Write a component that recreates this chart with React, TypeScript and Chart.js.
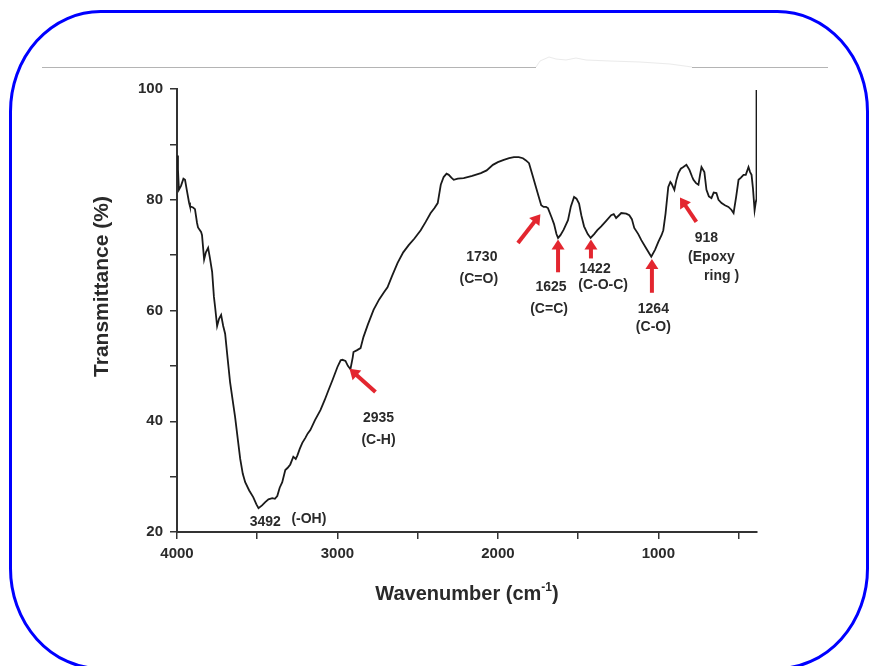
import React, { useEffect, useRef } from "react";
import { Chart, registerables } from "chart.js";

Chart.register(...registerables);

// FTIR spectrum: wavenumber (cm-1) and transmittance (%)
const WAVENUMBER = [
  4000, 3994, 3988, 3975, 3960, 3950, 3938, 3925, 3919, 3900, 3888, 3875, 3869, 3850, 3844, 3831,
  3820, 3806, 3795, 3781, 3770, 3762, 3750, 3738, 3725, 3712, 3700, 3685, 3669, 3650, 3638, 3620,
  3606, 3590, 3575, 3550, 3525, 3505, 3492, 3470, 3450, 3430, 3406, 3390, 3375, 3360, 3344, 3325,
  3310, 3294, 3275, 3260, 3250, 3235, 3219, 3200, 3185, 3169, 3140, 3106, 3080, 3056, 3030, 3000,
  2980, 2969, 2950, 2935, 2919, 2905, 2900, 2880, 2856, 2838, 2810, 2775, 2740, 2710, 2688, 2660,
  2625, 2590, 2556, 2520, 2481, 2450, 2419, 2395, 2375, 2356, 2338, 2320, 2306, 2290, 2275, 2250,
  2213, 2160, 2106, 2070, 2031, 2000, 1963, 1930, 1900, 1870, 1844, 1825, 1806, 1785, 1763, 1745,
  1730, 1715, 1700, 1688, 1665, 1650, 1635, 1625, 1610, 1590, 1563, 1545, 1525, 1510, 1494, 1480,
  1463, 1440, 1422, 1400, 1380, 1356, 1325, 1294, 1278, 1263, 1245, 1231, 1200, 1181, 1165, 1150,
  1125, 1106, 1075, 1044, 1020, 1000, 980, 969, 955, 938, 925, 919, 900, 888, 875, 860,
  844, 825, 806, 790, 781, 765, 750, 740, 731, 713, 700, 685, 669, 655, 638, 625,
  606, 585, 563, 545, 531, 515, 500, 485, 469, 455, 438, 428, 419, 410, 400, 393,
  389, 388,
];

const TRANSMITTANCE = [
  88.0, 85.5, 81.8, 82.5, 83.8, 83.6, 81.6, 79.5, 78.8, 78.6, 78.3, 75.8, 75.0, 74.2, 73.6, 69.2,
  70.5, 71.3, 69.5, 67.0, 62.5, 60.5, 57.2, 58.5, 59.2, 57.2, 55.8, 51.5, 47.0, 43.2, 40.8, 36.5,
  33.2, 30.5, 29.0, 27.5, 26.3, 25.0, 24.3, 24.8, 25.4, 25.9, 26.1, 26.0, 26.5, 28.0, 29.0, 31.2,
  31.6, 32.2, 33.6, 33.2, 33.8, 35.0, 36.1, 37.0, 37.8, 38.4, 40.2, 42.0, 43.8, 45.6, 47.5, 49.8,
  51.0, 51.1, 50.9, 50.0, 49.4, 51.5, 52.5, 52.8, 53.2, 55.2, 57.5, 60.1, 62.0, 63.3, 64.2, 66.2,
  68.6, 70.5, 71.8, 73.0, 74.5, 76.0, 77.6, 78.5, 79.4, 82.7, 84.1, 84.7, 84.5, 84.0, 83.6, 83.8,
  83.9, 84.3, 84.8, 85.3, 86.3, 86.8, 87.2, 87.5, 87.7, 87.7, 87.5, 87.1, 86.6, 84.5, 82.3, 80.5,
  79.0, 78.7, 78.7, 78.5, 76.8, 75.6, 73.8, 73.1, 73.6, 74.6, 76.3, 78.8, 80.5, 80.2, 79.3, 77.2,
  75.2, 73.8, 73.1, 73.8, 74.5, 75.2, 76.2, 77.2, 77.4, 76.7, 77.2, 77.6, 77.5, 77.2, 76.5, 74.9,
  73.8, 72.7, 71.2, 69.7, 71.0, 72.4, 73.6, 74.5, 77.5, 82.3, 83.2, 83.0, 81.8, 83.5, 84.8, 85.6,
  85.9, 86.3, 85.4, 84.2, 83.6, 83.0, 82.7, 84.5, 85.9, 85.0, 81.8, 80.6, 80.3, 81.3, 81.2, 80.0,
  79.4, 79.0, 78.7, 78.2, 77.6, 80.5, 83.6, 84.0, 84.5, 84.5, 85.9, 85.0, 84.5, 82.0, 78.1, 79.5,
  80.0, 99.8,
];

const X_TICKS = [4000, 3500, 3000, 2500, 2000, 1500, 1000, 500];
const X_TICK_LABELS = [4000, 3000, 2000, 1000];
const Y_TICKS = [20, 30, 40, 50, 60, 70, 80, 90, 100];
const Y_TICK_LABELS = [20, 40, 60, 80, 100];

// Band assignments written next to the spectrum
const PEAK_LABELS = ["3492", "2935", "1730", "1625", "1422", "1264", "918"];
const PEAK_GROUPS = [["(-OH)"], ["(C-H)"], ["(C=O)"], ["(C=C)"], ["(C-O-C)"], ["(C-O)"], ["(Epoxy", "ring )"]];

// Where each annotation sits, in data units: number, group lines, arrow (tail -> tip)
const ANNOTATION_LAYOUT: {
  num: [number, number];
  groups: [number, number][];
  arrow: [number, number, number, number] | null;
}[] = [
  { num: [3450, 21.8], groups: [[3178, 22.3]], arrow: null },
  { num: [2744, 40.6], groups: [[2744, 36.6]], arrow: [2763, 45.3, 2925, 49.5] },
  { num: [2100, 69.7], groups: [[2119, 65.7]], arrow: [1875, 72.2, 1735, 77.4] },
  { num: [1669, 64.2], groups: [[1681, 60.3]], arrow: [1625, 66.9, 1625, 72.8] },
  { num: [1394, 67.5], groups: [[1344, 64.6]], arrow: [1420, 69.4, 1420, 72.8] },
  { num: [1031, 60.3], groups: [[1031, 57.0]], arrow: [1040, 63.2, 1040, 69.3] },
  { num: [700, 73.1], groups: [[669, 69.7], [606, 66.2]], arrow: [763, 76.0, 865, 80.4] },
];

const FONT = "'Liberation Sans', Arial, Helvetica, sans-serif";
const TEXT_COLOR = "#2a2a2a";
const ARROW_COLOR = "#e3262f";

function drawArrow(ctx: CanvasRenderingContext2D, x0: number, y0: number, x1: number, y1: number) {
  const dx = x1 - x0;
  const dy = y1 - y0;
  const len = Math.hypot(dx, dy);
  const ux = dx / len;
  const uy = dy / len;
  const headLen = 10;
  const headHalf = 6.5;
  const bx = x1 - ux * headLen;
  const by = y1 - uy * headLen;
  ctx.save();
  ctx.strokeStyle = ARROW_COLOR;
  ctx.fillStyle = ARROW_COLOR;
  ctx.lineWidth = 4;
  ctx.lineCap = "butt";
  ctx.beginPath();
  ctx.moveTo(x0, y0);
  ctx.lineTo(bx + ux, by + uy);
  ctx.stroke();
  ctx.beginPath();
  ctx.moveTo(x1, y1);
  ctx.lineTo(bx - uy * headHalf, by + ux * headHalf);
  ctx.lineTo(bx + uy * headHalf, by - ux * headHalf);
  ctx.closePath();
  ctx.fill();
  ctx.restore();
}

const annotationPlugin = {
  id: "peakAnnotations",
  afterDatasetsDraw(chart: any) {
    const { ctx, scales } = chart;
    const xs = scales.x;
    const ys = scales.y;
    ctx.save();
    ctx.font = `bold 14px ${FONT}`;
    ctx.fillStyle = TEXT_COLOR;
    ctx.textAlign = "center";
    ctx.textBaseline = "middle";
    ANNOTATION_LAYOUT.forEach((a, i) => {
      ctx.fillText(PEAK_LABELS[i], xs.getPixelForValue(a.num[0]), ys.getPixelForValue(a.num[1]));
      a.groups.forEach((g, j) => {
        ctx.fillText(PEAK_GROUPS[i][j], xs.getPixelForValue(g[0]), ys.getPixelForValue(g[1]));
      });
      if (a.arrow) {
        drawArrow(
          ctx,
          xs.getPixelForValue(a.arrow[0]),
          ys.getPixelForValue(a.arrow[1]),
          xs.getPixelForValue(a.arrow[2]),
          ys.getPixelForValue(a.arrow[3])
        );
      }
    });
    ctx.restore();
  },
};

const axisTitlePlugin = {
  id: "axisTitles",
  afterDraw(chart: any) {
    const { ctx, chartArea } = chart;
    ctx.save();
    ctx.fillStyle = TEXT_COLOR;

    // y title, rotated
    ctx.font = `bold 21px ${FONT}`;
    ctx.textAlign = "center";
    ctx.textBaseline = "middle";
    ctx.translate(102, (chartArea.top + chartArea.bottom) / 2 - 24);
    ctx.rotate(-Math.PI / 2);
    ctx.fillText("Transmittance (%)", 0, 0);
    ctx.setTransform(1, 0, 0, 1, 0, 0);

    // x title with superscript exponent
    const main = "Wavenumber (cm";
    const sup = "-1";
    const close = ")";
    ctx.textAlign = "left";
    ctx.textBaseline = "alphabetic";
    ctx.font = `bold 20px ${FONT}`;
    const wMain = ctx.measureText(main).width;
    const wClose = ctx.measureText(close).width;
    ctx.font = `bold 12px ${FONT}`;
    const wSup = ctx.measureText(sup).width;
    const total = wMain + wSup + wClose;
    const cx = (chartArea.left + chartArea.right) / 2;
    const baseY = chartArea.bottom + 68;
    let x = cx - total / 2;
    ctx.font = `bold 20px ${FONT}`;
    ctx.fillText(main, x, baseY);
    x += wMain;
    ctx.font = `bold 12px ${FONT}`;
    ctx.fillText(sup, x, baseY - 9);
    x += wSup;
    ctx.font = `bold 20px ${FONT}`;
    ctx.fillText(close, x, baseY);
    ctx.restore();
  },
};

export default function App() {
  const canvasRef = useRef<HTMLCanvasElement>(null);

  useEffect(() => {
    const canvas = canvasRef.current;
    if (!canvas) return;
    const points = WAVENUMBER.map((w, i) => ({ x: w, y: TRANSMITTANCE[i] }));
    const tickFont = { family: FONT, size: 15, weight: "bold" as const };

    const chart = new Chart(canvas, {
      type: "line",
      data: {
        datasets: [
          {
            data: points,
            borderColor: "#1a1a1a",
            borderWidth: 1.8,
            pointRadius: 0,
            tension: 0,
            fill: false,
          },
        ],
      },
      options: {
        responsive: false,
        animation: false,
        layout: { padding: { left: 0, right: 112, top: 89, bottom: 0 } },
        plugins: {
          legend: { display: false },
          tooltip: { enabled: false },
        },
        scales: {
          x: {
            type: "linear",
            reverse: true,
            min: 385,
            max: 4000,
            afterFit: (s: any) => {
              s.height = 134;
            },
            afterBuildTicks: (s: any) => {
              s.ticks = X_TICKS.map((v) => ({ value: v }));
            },
            grid: {
              drawOnChartArea: false,
              drawTicks: true,
              tickLength: 7,
              color: "#333",
              lineWidth: 1.5,
            },
            border: { display: true, color: "#333", width: 2 },
            ticks: {
              autoSkip: false,
              maxRotation: 0,
              padding: 6,
              color: TEXT_COLOR,
              font: tickFont,
              callback: (v: any) => (X_TICK_LABELS.includes(Number(v)) ? String(v) : ""),
            },
          },
          y: {
            type: "linear",
            min: 20,
            max: 100,
            afterFit: (s: any) => {
              s.width = 177;
            },
            afterBuildTicks: (s: any) => {
              s.ticks = Y_TICKS.map((v) => ({ value: v }));
            },
            grid: {
              drawOnChartArea: false,
              drawTicks: true,
              tickLength: 7,
              color: "#333",
              lineWidth: 1.5,
            },
            border: { display: true, color: "#333", width: 2 },
            ticks: {
              autoSkip: false,
              padding: 7,
              color: TEXT_COLOR,
              font: tickFont,
              callback: (v: any) => (Y_TICK_LABELS.includes(Number(v)) ? String(v) : ""),
            },
          },
        },
      },
      plugins: [annotationPlugin, axisTitlePlugin],
    });

    return () => chart.destroy();
  }, []);

  return (
    <div
      style={{
        position: "absolute",
        left: 0,
        top: 0,
        width: 869,
        height: 666,
        overflow: "hidden",
        background: "#fff",
      }}
    >
      <svg
        width={869}
        height={666}
        style={{ position: "absolute", left: 0, top: 0 }}
      >
        <rect x={10.5} y={11.5} width={857} height={657} rx={90} ry={100} fill="none" stroke="#0000ff" strokeWidth={3} />
        <line x1={42} y1={67.5} x2={536} y2={67.5} stroke="#b4b4b4" strokeWidth={1} />
        <line x1={692} y1={67.5} x2={828} y2={67.5} stroke="#b4b4b4" strokeWidth={1} />
        <polyline
          points="536,67 540,61 549,57 556,59 566,60 576,58 586,60 610,61 640,62 670,64 692,67"
          fill="none"
          stroke="#ebebeb"
          strokeWidth={1}
        />
      </svg>
      <canvas
        ref={canvasRef}
        width={869}
        height={666}
        style={{ position: "absolute", left: 0, top: 0, width: 869, height: 666 }}
      />
    </div>
  );
}
